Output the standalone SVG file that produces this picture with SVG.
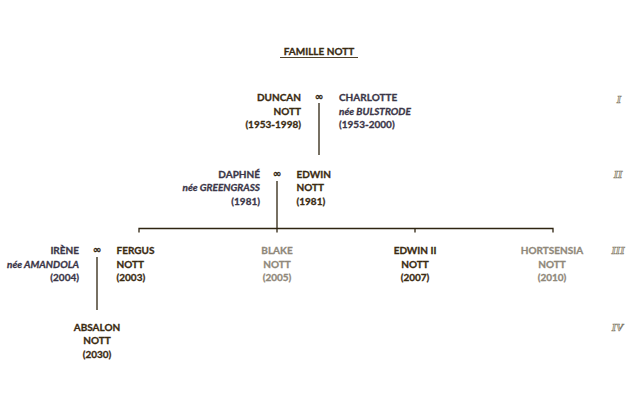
<svg xmlns="http://www.w3.org/2000/svg" width="640" height="400" viewBox="0 0 640 400">
<style>
text{font-family:Lato,"Open Sans","Liberation Sans",sans-serif;font-weight:bold;font-size:10px;stroke-width:0.3}
.n{fill:#3a2b12;stroke:#3a2b12}
.s{fill:#3b3648;stroke:#3b3648}
.g{fill:#8f887a;stroke:#8f887a}
.i{font-style:italic}
.r{text-anchor:end}
.m{text-anchor:middle}
.inf{font-family:"DejaVu Sans",sans-serif;font-weight:bold;font-size:10px;fill:#2e2410;stroke:#2e2410;stroke-width:0.3;text-anchor:middle}
.gen{font-family:"Liberation Serif",serif;font-style:italic;font-weight:bold;font-size:11px;fill:#e4ddcc;stroke:#7d7768;stroke-width:0.6;text-anchor:middle}
.ln{stroke:#2e2410;stroke-width:1.3;fill:none}
</style>
<rect width="640" height="400" fill="#ffffff"/>
<g id="title">
<text class="n m" x="319" y="55">FAMILLE NOTT</text>
<line x1="280" y1="57.5" x2="358" y2="57.5" stroke="#3a2b12" stroke-width="0.9"/>
</g>
<g id="connectors">
<path class="ln" d="M319,103 V155"/>
<path class="ln" d="M277,181 V232.5"/>
<path class="ln" d="M139,232.5 V228.5 H553 V232.5 M415,228.5 V232.5"/>
<path class="ln" d="M97,257 V310"/>
</g>
<g id="duncan"><text class="n r" x="301" y="101">DUNCAN</text><text class="n r" x="301" y="114.5">NOTT</text><text class="n r" x="301" y="128">(1953-1998)</text></g>
<g id="union1"><text class="inf" x="319" y="100">∞</text></g>
<g id="charlotte"><text class="s" x="339" y="101">CHARLOTTE</text><text class="s i" x="339" y="114.5">née BULSTRODE</text><text class="s" x="339" y="128">(1953-2000)</text></g>
<g id="daphne"><text class="s r" x="260" y="177.5">DAPHNÉ</text><text class="s i r" x="260" y="191">née GREENGRASS</text><text class="s r" x="260" y="204.5">(1981)</text></g>
<g id="union2"><text class="inf" x="277" y="176.5">∞</text></g>
<g id="edwin"><text class="n" x="296.5" y="177.5">EDWIN</text><text class="n" x="296.5" y="191">NOTT</text><text class="n" x="296.5" y="204.5">(1981)</text></g>
<g id="irene"><text class="s r" x="79" y="254">IRÈNE</text><text class="s i r" x="79" y="267.5">née AMANDOLA</text><text class="s r" x="79" y="281">(2004)</text></g>
<g id="union3"><text class="inf" x="97" y="253">∞</text></g>
<g id="fergus"><text class="n" x="116.5" y="254">FERGUS</text><text class="n" x="116.5" y="267.5">NOTT</text><text class="n" x="116.5" y="281">(2003)</text></g>
<g id="blake"><text class="g m" x="277" y="254">BLAKE</text><text class="g m" x="277" y="267.5">NOTT</text><text class="g m" x="277" y="281">(2005)</text></g>
<g id="edwin2"><text class="n m" x="415" y="254">EDWIN II</text><text class="n m" x="415" y="267.5">NOTT</text><text class="n m" x="415" y="281">(2007)</text></g>
<g id="hortsensia"><text class="g m" x="552" y="254">HORTSENSIA</text><text class="g m" x="552" y="267.5">NOTT</text><text class="g m" x="552" y="281">(2010)</text></g>
<g id="absalon"><text class="n m" x="97" y="330.5">ABSALON</text><text class="n m" x="97" y="344">NOTT</text><text class="n m" x="97" y="357.5">(2030)</text></g>
<g id="generations">
<text class="gen" x="619" y="102.5">I</text>
<text class="gen" x="618" y="178">II</text>
<text class="gen" x="618" y="254">III</text>
<text class="gen" x="617.5" y="331">IV</text>
</g>
</svg>
